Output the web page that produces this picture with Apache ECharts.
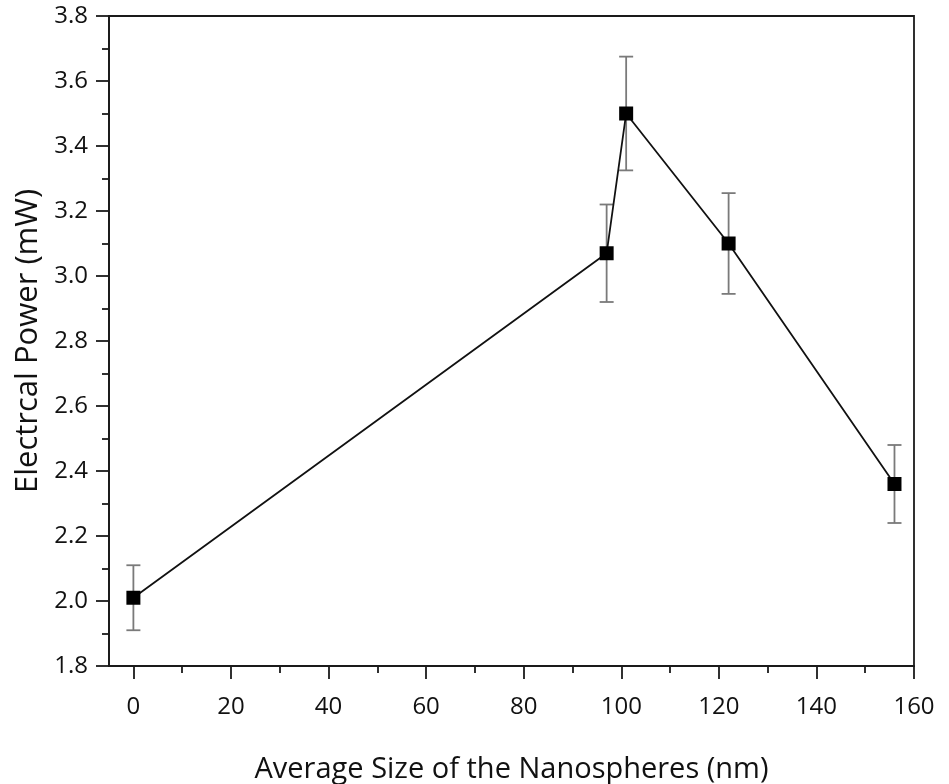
<!DOCTYPE html>
<html>
<head>
<meta charset="utf-8">
<script src="https://cdn.jsdelivr.net/npm/echarts@6/dist/echarts.min.js"></script>
<style>
  html, body { margin: 0; padding: 0; background: #fff; }
  #chart { width: 949px; height: 784px; }
</style>
</head>
<body>
<div id="chart"></div>
<script>
// Average nanosphere size (nm) and measured electrical power (mW)
const sizes = [0, 97, 101, 122, 156];
const power = [2.01, 3.07, 3.50, 3.10, 2.36];
const powerErr = [0.10, 0.15, 0.175, 0.155, 0.12];

const xMajorTicks = [0, 20, 40, 60, 80, 100, 120, 140, 160];
const xMinorTicks = [10, 30, 50, 70, 90, 110, 130, 150];

const FONT = '"Open Sans", "Noto Sans", sans-serif';
const AXIS_COLOR = '#1a1a1a';

const points = sizes.map((s, i) => [s, power[i]]);
const errRows = sizes.map((s, i) => [s, power[i] - powerErr[i], power[i] + powerErr[i]]);

const chart = echarts.init(document.getElementById('chart'), null, { renderer: 'canvas' });

chart.setOption({
  animation: false,
  backgroundColor: '#fff',
  grid: {
    left: 109, right: 35, top: 16, bottom: 118,
    outerBoundsMode: 'none', containLabel: false,
    show: true, borderColor: AXIS_COLOR, borderWidth: 1.8, backgroundColor: 'transparent'
  },
  xAxis: [
    {
      type: 'value', min: -5, max: 160, position: 'bottom',
      name: 'Average Size of the Nanospheres (nm)',
      nameLocation: 'middle', nameGap: 89,
      nameTextStyle: { fontFamily: FONT, fontSize: 29, color: '#111' },
      axisLine: { show: true, onZero: false, lineStyle: { color: AXIS_COLOR, width: 1.8 } },
      axisTick: { show: true, customValues: xMajorTicks, length: 13, inside: false,
                  lineStyle: { color: AXIS_COLOR, width: 1.8 } },
      axisLabel: { show: true, customValues: xMajorTicks, margin: 29,
                   fontFamily: FONT, fontSize: 24, color: '#111' },
      splitLine: { show: false }
    },
    {
      type: 'value', min: -5, max: 160, position: 'bottom',
      axisLine: { show: false, onZero: false },
      axisTick: { show: true, customValues: xMinorTicks, length: 7, inside: false,
                  lineStyle: { color: AXIS_COLOR, width: 1.8 } },
      axisLabel: { show: false },
      splitLine: { show: false }
    }
  ],
  yAxis: {
    type: 'value', min: 1.8, max: 3.8, interval: 0.2,
    name: 'Electrcal Power (mW)',
    nameLocation: 'middle', nameGap: 64, nameRotate: 90,
    nameTextStyle: { fontFamily: FONT, fontSize: 31, color: '#111' },
    axisLine: { show: true, onZero: false, lineStyle: { color: AXIS_COLOR, width: 1.8 } },
    axisTick: { show: true, length: 13, inside: false, lineStyle: { color: AXIS_COLOR, width: 1.8 } },
    minorTick: { show: true, splitNumber: 2, length: 7, lineStyle: { color: AXIS_COLOR, width: 1.8 } },
    axisLabel: { margin: 21, fontFamily: FONT, fontSize: 24, color: '#111',
                 formatter: v => v.toFixed(1) },
    splitLine: { show: false },
    minorSplitLine: { show: false }
  },
  series: [
    {
      // vertical error bars with caps
      type: 'custom',
      xAxisIndex: 0,
      data: errRows,
      z: 1,
      renderItem: function (params, api) {
        const x = api.value(0);
        const lo = api.coord([x, api.value(1)]);
        const hi = api.coord([x, api.value(2)]);
        const half = 7;
        const style = { stroke: '#7a7a7a', lineWidth: 1.8 };
        return {
          type: 'group',
          children: [
            { type: 'line', shape: { x1: lo[0], y1: lo[1], x2: hi[0], y2: hi[1] }, style },
            { type: 'line', shape: { x1: hi[0] - half, y1: hi[1], x2: hi[0] + half, y2: hi[1] }, style },
            { type: 'line', shape: { x1: lo[0] - half, y1: lo[1], x2: lo[0] + half, y2: lo[1] }, style }
          ]
        };
      }
    },
    {
      type: 'line',
      xAxisIndex: 0,
      data: points,
      z: 2,
      symbol: 'rect',
      symbolSize: 14,
      itemStyle: { color: '#000' },
      lineStyle: { color: '#111', width: 1.8 }
    }
  ]
});
</script>
</body>
</html>
